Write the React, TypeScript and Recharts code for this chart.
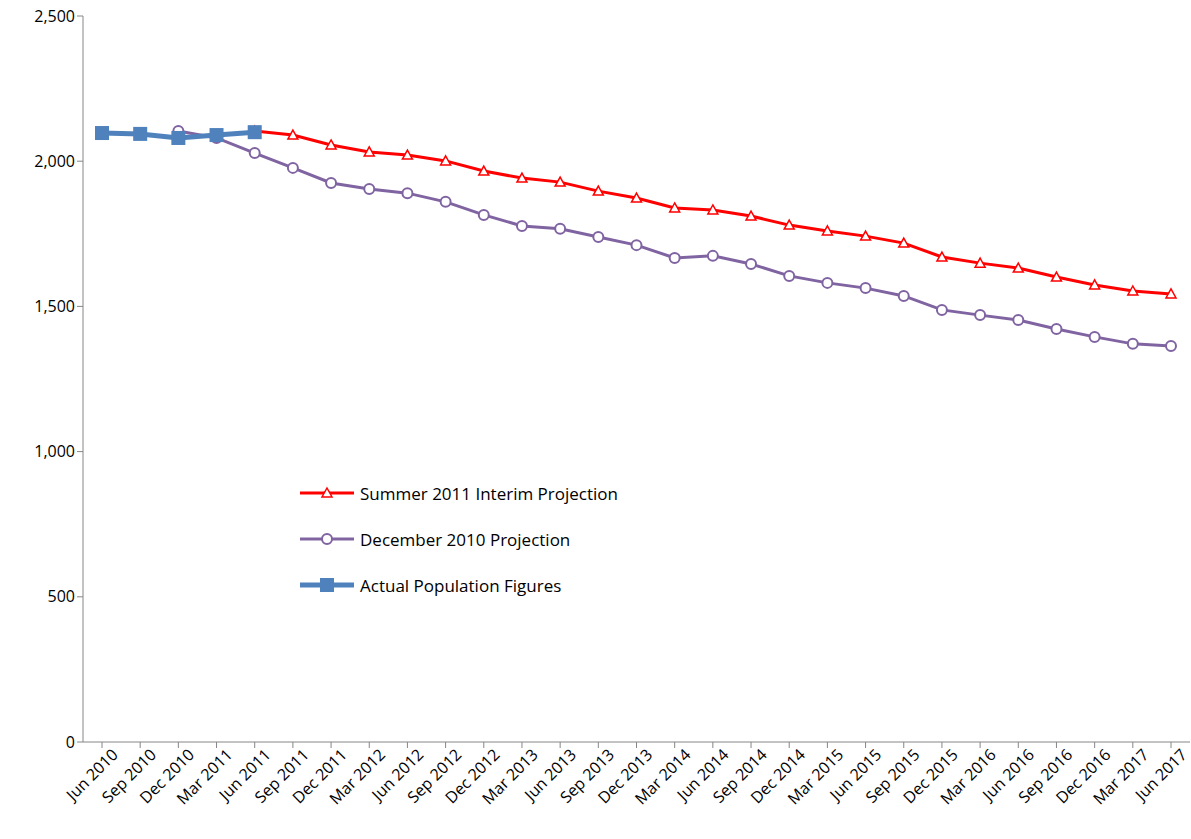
import { Line, LineChart, XAxis, YAxis } from "recharts";

const quarters = [
  "Jun 2010", "Sep 2010", "Dec 2010", "Mar 2011", "Jun 2011", "Sep 2011", "Dec 2011", "Mar 2012",
  "Jun 2012", "Sep 2012", "Dec 2012", "Mar 2013", "Jun 2013", "Sep 2013", "Dec 2013", "Mar 2014",
  "Jun 2014", "Sep 2014", "Dec 2014", "Mar 2015", "Jun 2015", "Sep 2015", "Dec 2015", "Mar 2016",
  "Jun 2016", "Sep 2016", "Dec 2016", "Mar 2017", "Jun 2017",
];

const summer2011 = [
  null, null, null, null, 2104, 2090, 2056, 2032, 2021, 2001, 1966, 1942, 1928, 1897, 1873, 1839,
  1832, 1811, 1780, 1760, 1742, 1718, 1670, 1649, 1632, 1601, 1574, 1553, 1543,
];

const dec2010 = [
  null, null, 2104, 2080, 2028, 1977, 1925, 1904, 1890, 1860, 1815, 1777, 1767, 1739, 1711, 1667,
  1674, 1646, 1605, 1581, 1563, 1536, 1488, 1470, 1453, 1422, 1395, 1371, 1364,
];

const actual = [2097, 2094, 2080, 2090, 2100];

const yTicks = [0, 500, 1000, 1500, 2000, 2500];

const data = quarters.map((q, i) => ({
  q,
  summer: summer2011[i],
  dec: dec2010[i],
  actual: i < actual.length ? actual[i] : null,
}));

const font = "'Open Sans', sans-serif";

function Tri({ cx, cy }: { cx?: number; cy?: number }) {
  if (cx == null || cy == null) return null;
  return <path d={`M${cx},${cy - 5} L${cx + 5},${cy + 4} L${cx - 5},${cy + 4} Z`} fill="#fff" stroke="#FF0000" strokeWidth={1.5} />;
}

function XTick({ x, y, payload }: { x?: number; y?: number; payload?: { value: string } }) {
  return (
    <text x={x} y={y} dy={16} dx={8} transform={`rotate(-45 ${x} ${y})`} textAnchor="end" fontSize={16} fill="#000" fontFamily={font}>
      {payload?.value}
    </text>
  );
}

const legendItems = [
  { label: "Summer 2011 Interim Projection", color: "#FF0000", kind: "tri" },
  { label: "December 2010 Projection", color: "#8064A2", kind: "circle" },
  { label: "Actual Population Figures", color: "#4F81BD", kind: "square" },
];

function LegendBox() {
  return (
    <div style={{ position: "absolute", left: 300, top: 470, fontFamily: font, fontSize: 17 }}>
      {legendItems.map((it) => (
        <div key={it.label} style={{ display: "flex", alignItems: "center", height: 46 }}>
          <svg width={56} height={20}>
            <line x1={0} y1={10} x2={54} y2={10} stroke={it.color} strokeWidth={it.kind === "square" ? 5 : 3} />
            {it.kind === "tri" && <path d="M27,5 L32,14 L22,14 Z" fill="#fff" stroke={it.color} strokeWidth={1.5} />}
            {it.kind === "circle" && <circle cx={27} cy={10} r={5} fill="#fff" stroke={it.color} strokeWidth={2} />}
            {it.kind === "square" && <rect x={20} y={3} width={14} height={14} fill={it.color} />}
          </svg>
          <span style={{ marginLeft: 4 }}>{it.label}</span>
        </div>
      ))}
    </div>
  );
}

export default function App() {
  return (
    <div style={{ position: "absolute", left: 0, top: 0, width: 1191, height: 839, background: "#fff" }}>
      <LineChart width={1191} height={839} data={data} margin={{ top: 16, right: 1, bottom: 7, left: 23 }}>
        <XAxis
          dataKey="q"
          interval={0}
          padding={{ left: 19, right: 19 }}
          height={90}
          tick={(p) => <XTick {...p} />}
          tickLine={{ stroke: "#868686" }}
          axisLine={{ stroke: "#868686" }}
        />
        <YAxis
          width={60}
          domain={[0, 2500]}
          ticks={yTicks}
          tickFormatter={(v) => Number(v).toLocaleString("en-US")}
          tick={{ fontSize: 16, fill: "#000", fontFamily: font }}
          tickLine={{ stroke: "#868686" }}
          axisLine={{ stroke: "#868686" }}
        />
        <Line dataKey="summer" stroke="#FF0000" strokeWidth={3} dot={(p) => <Tri key={p.index} cx={p.cx} cy={p.cy} />} isAnimationActive={false} />
        <Line dataKey="dec" stroke="#8064A2" strokeWidth={3} dot={{ r: 5, fill: "#fff", stroke: "#8064A2", strokeWidth: 2 }} isAnimationActive={false} />
        <Line
          dataKey="actual"
          stroke="#4F81BD"
          strokeWidth={5}
          dot={(p) => (p.cx == null || p.cy == null ? <g key={p.index} /> : <rect key={p.index} x={p.cx - 7} y={p.cy - 7} width={14} height={14} fill="#4F81BD" />)}
          isAnimationActive={false}
        />
      </LineChart>
      <LegendBox />
    </div>
  );
}
